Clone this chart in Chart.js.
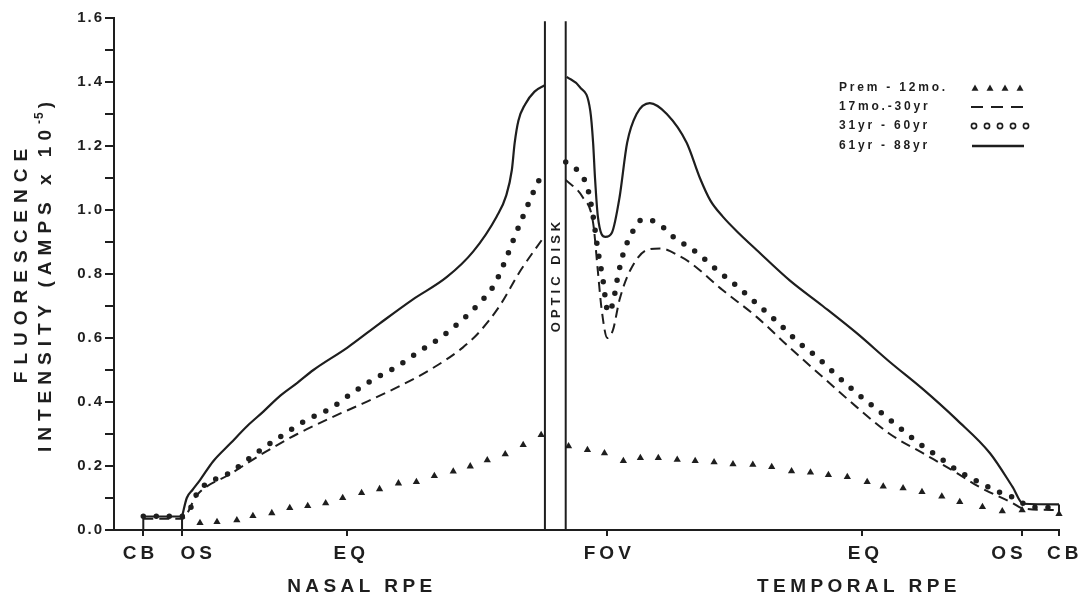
<!DOCTYPE html>
<html>
<head>
<meta charset="utf-8">
<script src="https://cdn.jsdelivr.net/npm/chart.js@4.4.1/dist/chart.umd.min.js"></script>
<style>
  html, body { margin: 0; padding: 0; background: #ffffff; }
  canvas { display: block; }
</style>
</head>
<body>
<canvas id="c" width="1092" height="598"></canvas>
<script>
// Position along the RPE runs from 0 (plot edge) to 100 (temporal ciliary body).
const landmarkNames   = ['CB', 'OS', 'EQ', 'FOV', 'EQ', 'OS', 'CB'];
const landmarkAt      = [3.1, 7.2, 24.7, 52.2, 79.2, 96.1, 100];
const landmarkLabelAt = [2.6, 8.7, 24.9, 52.2, 79.3, 94.5, 100.4];
const regionNames     = ['NASAL RPE', 'TEMPORAL RPE'];
const regionLabelAt   = [26.0, 78.6];
const opticDiskEdges  = [45.6, 47.8];
const opticDiskTop    = 1.59;
const yMax = 1.6;
const yStep = 0.1;

const seriesNames = ['Prem - 12mo.', '17mo.-30yr', '31yr - 60yr', '61yr - 88yr'];

// Prem - 12 mo. (triangles)
const premNasal = [[9.1,0.022],[10.9,0.025],[13.0,0.031],[14.7,0.044],[16.7,0.053],[18.6,0.069],
  [20.5,0.075],[22.4,0.084],[24.2,0.100],[26.2,0.116],[28.1,0.128],[30.1,0.146],[32.0,0.150],
  [33.9,0.169],[35.9,0.183],[37.7,0.199],[39.5,0.218],[41.4,0.237],[43.3,0.266],[45.2,0.297]];
const premTemporal = [[48.1,0.262],[50.1,0.250],[51.9,0.240],[53.9,0.216],[55.7,0.225],[57.6,0.225],
  [59.6,0.220],[61.5,0.216],[63.5,0.212],[65.5,0.206],[67.6,0.204],[69.6,0.197],[71.7,0.184],
  [73.7,0.180],[75.6,0.172],[77.6,0.166],[79.7,0.150],[81.4,0.136],[83.5,0.131],[85.5,0.119],
  [87.6,0.105],[89.5,0.088],[91.9,0.072],[94.0,0.059],[96.1,0.062],[100,0.050]];

// 17 mo. - 30 yr (dashed)
const youngNasal = [[3.1,0.035],[7.2,0.035],[8.8,0.110],[12.3,0.175],[15.8,0.240],
  [19.4,0.300],[22.9,0.350],[26.3,0.395],[29.9,0.445],[33.4,0.500],[36.9,0.570],[38.7,0.620],
  [40.8,0.700],[43.0,0.810],[45.6,0.920]];
const youngTemporal = [[47.8,1.094],[49.6,1.040],[50.7,0.960],[51.2,0.810],[51.6,0.690],[52.2,0.600],
  [52.8,0.625],[53.5,0.720],[54.6,0.810],[56.4,0.875],[57.8,0.880],[59.9,0.855],[61.0,0.835],
  [64.4,0.750],[68.0,0.666],[71.5,0.570],[75.0,0.478],[78.6,0.384],[82.1,0.300],[85.6,0.240],
  [89.2,0.178],[91.6,0.134],[95.1,0.084],[96.1,0.068],[100,0.062]];

// 31 yr - 60 yr (dotted)
const middleNasal = [[3.1,0.043],[7.2,0.043],[8.0,0.063],[8.8,0.115],[12.3,0.180],[15.8,0.256],
  [17.9,0.297],[20.4,0.344],[22.9,0.380],[25.3,0.430],[27.4,0.470],[29.9,0.510],[32.2,0.556],
  [34.5,0.600],[36.6,0.650],[38.7,0.710],[40.3,0.770],[43.0,0.960],[45.1,1.100],[45.6,1.120]];
const middleTemporal = [[47.8,1.150],[49.3,1.115],[50.1,1.070],[50.7,0.980],[51.2,0.875],[51.7,0.790],
  [52.3,0.680],[52.8,0.710],[53.3,0.790],[53.9,0.865],[54.6,0.916],[55.9,0.970],[57.5,0.960],
  [59.2,0.916],[61.7,0.866],[63.9,0.810],[66.0,0.760],[68.1,0.705],[70.2,0.650],[72.3,0.590],
  [74.4,0.540],[76.4,0.485],[78.5,0.430],[80.7,0.378],[82.9,0.325],[85.0,0.275],[87.2,0.230],
  [89.3,0.185],[91.9,0.144],[94.3,0.110],[95.3,0.100],[96.1,0.085],[96.9,0.072],[100,0.070]];

// 61 yr - 88 yr (solid)
const oldNasal = [[7.2,0.042],[7.7,0.100],[8.3,0.125],[9.1,0.156],[10.5,0.215],[12.3,0.270],
  [14.1,0.325],[15.8,0.370],[17.6,0.420],[19.4,0.460],[21.1,0.500],[24.7,0.570],[28.1,0.645],
  [31.6,0.720],[35.2,0.790],[38.0,0.870],[40.5,0.980],[41.5,1.045],[42.1,1.125],[42.4,1.210],
  [42.8,1.280],[43.5,1.330],[44.5,1.370],[45.6,1.390]];
const oldTemporal = [[47.9,1.416],[49.3,1.384],[50.4,1.310],[50.7,1.210],[50.9,1.100],[51.2,0.980],
  [52.0,0.916],[52.7,0.930],[53.5,1.040],[54.3,1.210],[55.3,1.300],[56.7,1.334],[58.5,1.300],
  [60.6,1.210],[62.0,1.100],[63.1,1.030],[64.4,0.980],[66.2,0.925],[68.0,0.875],[71.5,0.780],
  [75.0,0.700],[78.6,0.615],[82.1,0.525],[85.6,0.440],[89.2,0.344],[92.7,0.240],[95.1,0.134],
  [96.2,0.082],[100,0.080]];

// Short steps at the ciliary body / ora serrata ends
const nasalStep    = [[3.1,0],[3.1,0.042],[7.2,0.042],[7.2,0]];
const temporalStep = [[100,0.080],[100,0.045]];

const ink = '#1e1e1e';
const FONT = '"Liberation Sans", Arial, Helvetica, sans-serif';
const font = (px, w = 'bold') => `${w} ${px}px ${FONT}`;
const xy = arr => arr.map(([x, y]) => ({ x, y }));

const base = { borderColor: ink, backgroundColor: ink, pointRadius: 0, fill: false, clip: false };
const straight = (pts, w = 2) => Object.assign({}, base, { data: xy(pts), borderWidth: w, tension: 0 });
const smooth = (pts, extra) => Object.assign({}, base, { data: xy(pts), borderWidth: 2, cubicInterpolationMode: 'monotone' }, extra);
const solid  = pts => smooth(pts, { borderWidth: 2.2 });
const dashed = pts => smooth(pts, { borderDash: [10, 6], borderWidth: 2 });
const dotted = pts => smooth(pts, { borderDash: [0, 13], borderCapStyle: 'round', borderWidth: 5.5 });
const marks  = pts => Object.assign({}, base, { data: xy(pts), showLine: false, pointStyle: 'triangle',
  pointRadius: 4.2, pointBorderWidth: 0, pointBackgroundColor: ink, pointBorderColor: ink });

// Draws text with letter spacing; returns visible width.
function spaced(ctx, text, x, y, s, align = 'center') {
  ctx.letterSpacing = s + 'px';
  const w = ctx.measureText(text).width - s;
  ctx.textAlign = 'left';
  ctx.fillText(text, align === 'center' ? x - w / 2 : x, y);
  return w;
}

const annotations = {
  id: 'annotations',
  beforeDraw(chart) { chart.ctx.letterSpacing = '2px'; },
  afterDraw(chart) {
    const { ctx, scales: { x } } = chart;
    ctx.save();
    ctx.fillStyle = ink;
    ctx.strokeStyle = ink;

    // landmark names under the axis
    ctx.font = font(19);
    ctx.textBaseline = 'alphabetic';
    landmarkNames.forEach((t, i) => spaced(ctx, t, x.getPixelForValue(landmarkLabelAt[i]), 559, 4));
    regionNames.forEach((t, i) => spaced(ctx, t, x.getPixelForValue(regionLabelAt[i]), 592, 4.4));

    // vertical axis title (two lines)
    ctx.save();
    ctx.translate(22, 266);
    ctx.rotate(-Math.PI / 2);
    ctx.textBaseline = 'middle';
    ctx.font = font(19);
    spaced(ctx, 'FLUORESCENCE', 0, 0, 7);
    ctx.restore();

    ctx.save();
    ctx.translate(46, 277);
    ctx.rotate(-Math.PI / 2);
    ctx.textBaseline = 'middle';
    const a = 'INTENSITY (AMPS x 10', b = '-5', c = ')';
    ctx.font = font(19); ctx.letterSpacing = '6px';
    const wa = ctx.measureText(a).width;
    ctx.font = font(12); ctx.letterSpacing = '1px';
    const wb = ctx.measureText(b).width;
    ctx.font = font(19); ctx.letterSpacing = '6px';
    const wc = ctx.measureText(c).width - 6;
    let x0 = -(wa + wb + 3 + wc) / 2;
    ctx.font = font(19); spaced(ctx, a, x0, 0, 6, 'left'); x0 += wa;
    ctx.font = font(12); spaced(ctx, b, x0, -6, 1, 'left'); x0 += wb + 3;
    ctx.font = font(19); spaced(ctx, c, x0, 0, 6, 'left');
    ctx.restore();

    // label between the optic disk lines
    ctx.save();
    const dx = (x.getPixelForValue(opticDiskEdges[0]) + x.getPixelForValue(opticDiskEdges[1])) / 2;
    ctx.translate(dx + 1, 277);
    ctx.rotate(-Math.PI / 2);
    ctx.textBaseline = 'middle';
    ctx.font = font(13);
    spaced(ctx, 'OPTIC DISK', 0, 0, 4);
    ctx.restore();

    // key
    const rows = [88, 107, 126, 146];
    ctx.font = font(12);
    ctx.textBaseline = 'middle';
    seriesNames.forEach((t, i) => spaced(ctx, t, 839, rows[i], 2.8, 'left'));
    // triangles
    for (let k = 0; k < 4; k++) {
      const cx = 975 + k * 15, cy = rows[0];
      ctx.beginPath();
      ctx.moveTo(cx, cy - 3.6); ctx.lineTo(cx + 3.5, cy + 2.8); ctx.lineTo(cx - 3.5, cy + 2.8);
      ctx.closePath(); ctx.fill();
    }
    // dashes
    ctx.lineWidth = 2;
    ctx.setLineDash([12, 8]);
    ctx.beginPath(); ctx.moveTo(971, rows[1]); ctx.lineTo(1024, rows[1]); ctx.stroke();
    ctx.setLineDash([]);
    // open circles
    ctx.lineWidth = 1.6;
    for (let k = 0; k < 5; k++) {
      ctx.beginPath(); ctx.arc(974 + k * 13, rows[2], 2.6, 0, Math.PI * 2); ctx.stroke();
    }
    // solid
    ctx.lineWidth = 2.5;
    ctx.beginPath(); ctx.moveTo(972, rows[3]); ctx.lineTo(1024, rows[3]); ctx.stroke();

    ctx.restore();
    ctx.letterSpacing = '0px';
  }
};

new Chart(document.getElementById('c'), {
  type: 'line',
  data: {
    datasets: [
      straight(nasalStep),
      straight(temporalStep),
      straight([[opticDiskEdges[0], 0], [opticDiskEdges[0], opticDiskTop]]),
      straight([[opticDiskEdges[1], 0], [opticDiskEdges[1], opticDiskTop]]),
      solid(oldNasal), solid(oldTemporal),
      dashed(youngNasal), dashed(youngTemporal),
      dotted(middleNasal), dotted(middleTemporal),
      marks(premNasal), marks(premTemporal)
    ]
  },
  options: {
    responsive: false,
    devicePixelRatio: 1,
    animation: false,
    events: [],
    layout: { padding: { top: 18, right: 33, left: 0, bottom: 0 } },
    plugins: { legend: { display: false }, tooltip: { enabled: false } },
    scales: {
      x: {
        type: 'linear',
        min: 0, max: 100,
        afterFit: s => { s.height = 68; },
        afterBuildTicks: s => { s.ticks = landmarkAt.map(v => ({ value: v })); },
        ticks: { display: false, autoSkip: false },
        grid: { drawOnChartArea: false, drawTicks: true, tickLength: 6, color: ink, lineWidth: 2 },
        border: { display: true, color: ink, width: 2 }
      },
      y: {
        min: 0, max: yMax,
        afterFit: s => { s.width = 114; },
        ticks: {
          stepSize: yStep,
          autoSkip: false,
          padding: 1,
          color: ink,
          font: { family: FONT, size: 15, weight: 'bold' },
          callback: v => (Math.round(v * 10) % 2 === 0 ? v.toFixed(1) : '')
        },
        grid: { drawOnChartArea: false, drawTicks: true, tickLength: 9, color: ink, lineWidth: 2 },
        border: { display: true, color: ink, width: 2 }
      }
    }
  },
  plugins: [annotations]
});
</script>
</body>
</html>
